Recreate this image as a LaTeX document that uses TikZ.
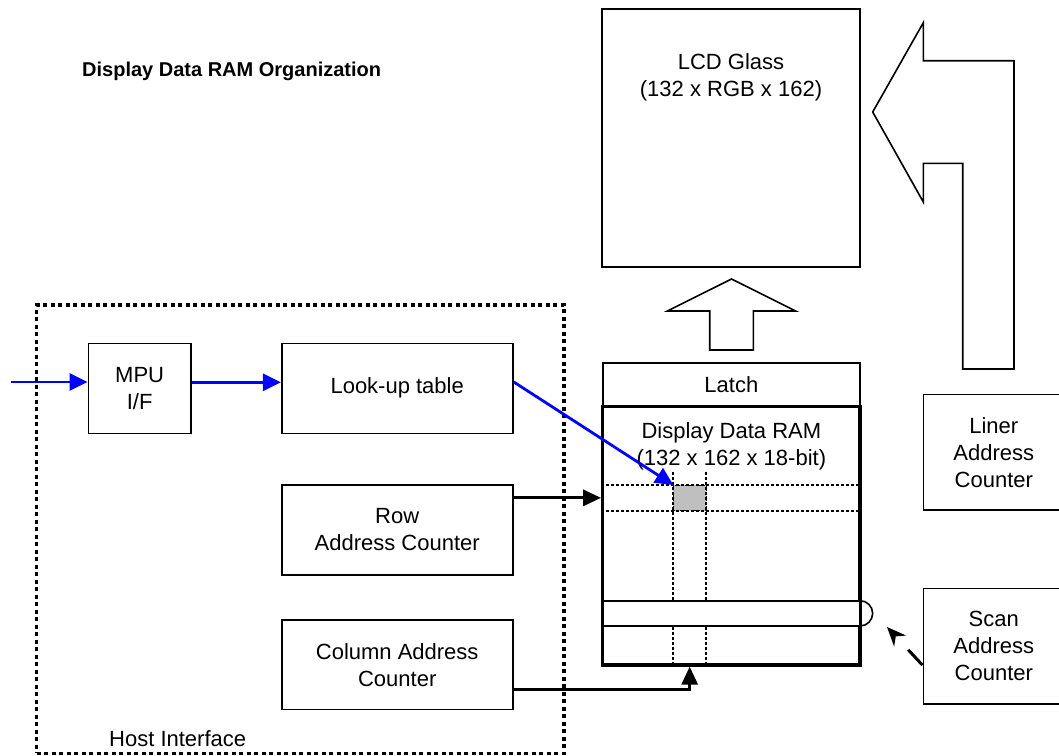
\documentclass[tikz,border=0pt]{standalone}
\usepackage{fontspec}
\setmainfont{Liberation Sans}
\usetikzlibrary{arrows.meta,positioning}

\begin{document}
\begin{tikzpicture}[
    x=1pt, y=-1pt,
    font=\fontsize{22}{27}\selectfont,
    box/.style={draw, line width=1.6pt, align=center, inner sep=0pt},
    rambox/.style={draw, line width=3.2pt, inner sep=0pt},
    cellbox/.style={draw, fill=gray!50, line width=0.8pt, dash pattern=on 2pt off 1.5pt, inner sep=0pt, outer sep=0pt},
    bandbox/.style={draw, fill=white, line width=1.6pt, inner sep=0pt, outer sep=0pt},
    dotln/.style={line width=2pt, dash pattern=on 3pt off 2pt},
    hostbox/.style={draw, line width=3.4pt, dash pattern=on 4pt off 3.5pt, inner sep=0pt},
    bluearr/.style={blue, line width=2.8pt, -{Triangle[length=18pt, width=17pt]}},
    blkarr/.style={line width=3pt, -{Triangle[length=18pt, width=16pt]}},
    scanarr/.style={line width=3pt, dash pattern=on 21pt off 60pt, -{Stealth[length=19pt, width=16pt]}},
    bigarrow/.style={draw, line width=1.6pt, line join=miter},
    lbl/.style={anchor=north, inner sep=0pt, align=center}
]
\useasboundingbox (0,0) rectangle (1059,755);
\clip (0,0) rectangle (1059,755);

% title
\node[anchor=base west, inner sep=0pt, font=\fontsize{20}{24}\selectfont\bfseries] (title) at (82,76) {Display Data RAM Organization};

% panel and its data path
\node[box, minimum width=258pt, minimum height=258pt,
      label={[lbl, yshift=-45pt]north:{LCD Glass\\(132 x RGB x 162)}}] (lcd) at (731,138) {};
\draw[bigarrow] (731.5,279) -- (795.7,311) -- (753.3,311) -- (753.3,350) -- (709.7,350) -- (709.7,311) -- (667.3,311) -- cycle;
\draw[bigarrow] (872.7,112) -- (923.3,22.7) -- (923.3,60.7) -- (1014,60.7) -- (1014,369) -- (962.7,369) -- (962.7,163.3) -- (923.3,163.3) -- (923.3,202) -- cycle;

% latch and display RAM
\node[box, minimum width=257.3pt, minimum height=44pt] (latch) at (731.35,384.7) {Latch};
\node[rambox, minimum width=257.3pt, minimum height=258.3pt] (ram) at (731.35,535.85) {};
\node[lbl] (ramtxt) at ([yshift=-17pt]ram.north) {Display Data RAM\\(132 x 162 x 18-bit)};
\node[cellbox, minimum width=32.7pt, minimum height=25.7pt] (cell) at (689.65,497.85) {};
\coordinate (vtop) at (0,471.7);
\draw[dotln] (ram.west |- cell.north) -- (ram.east |- cell.north);
\draw[dotln] (ram.west |- cell.south) -- (ram.east |- cell.south);
\draw[dotln] (cell.west |- vtop) -- (cell.west |- ram.south);
\draw[dotln] (cell.east |- vtop) -- (cell.east |- ram.south);
\node[bandbox, minimum width=257.3pt, minimum height=25.3pt] (scanrow) at (731.35,613.35) {};
\draw[line width=1.6pt] (scanrow.north east) arc[start angle=90, end angle=-90, radius=12.65pt];

% host interface
\node[hostbox, minimum width=527.3pt, minimum height=448.3pt] (host) at (300.35,529.15) {};
\node[anchor=base west, inner sep=0pt] (hostlbl) at (109,746) {Host Interface};
\node[box, minimum width=102.7pt, minimum height=90pt] (mpu) at (139.65,388.3) {MPU\\I/F};
\node[box, minimum width=231pt, minimum height=90pt] (lut) at (397.2,388.3) {Look-up table};
\node[box, minimum width=231pt, minimum height=90pt] (row) at (397.2,530) {Row\\Address Counter};
\node[box, minimum width=231pt, minimum height=89.3pt] (col) at (397.2,664.65) {Column Address\\Counter};

% counters on the right
\node[box, minimum width=141pt, minimum height=115.7pt] (liner) at (993.8,452.15) {Liner\\Address\\Counter};
\node[box, minimum width=141pt, minimum height=115.7pt] (scan) at (993.8,646.15) {Scan\\Address\\Counter};

% connectors
\coordinate (hostin) at (10.7,382);
\draw[bluearr] (hostin) -- (mpu.west |- hostin);
\draw[bluearr] ([yshift=6pt]mpu.east) -- ([yshift=6pt]lut.west);
\draw[bluearr] ([yshift=6.5pt]lut.east) -- (cell.north west);
\draw[blkarr] (row.east |- cell) -- (ram.west |- cell);
\draw[blkarr] ([yshift=-25pt]col.east) -| (cell |- ram.south);
\coordinate (scantip) at (887,627);
\draw[scanarr] ([yshift=-19pt]scan.west) -- (scantip);
\end{tikzpicture}
\end{document}
